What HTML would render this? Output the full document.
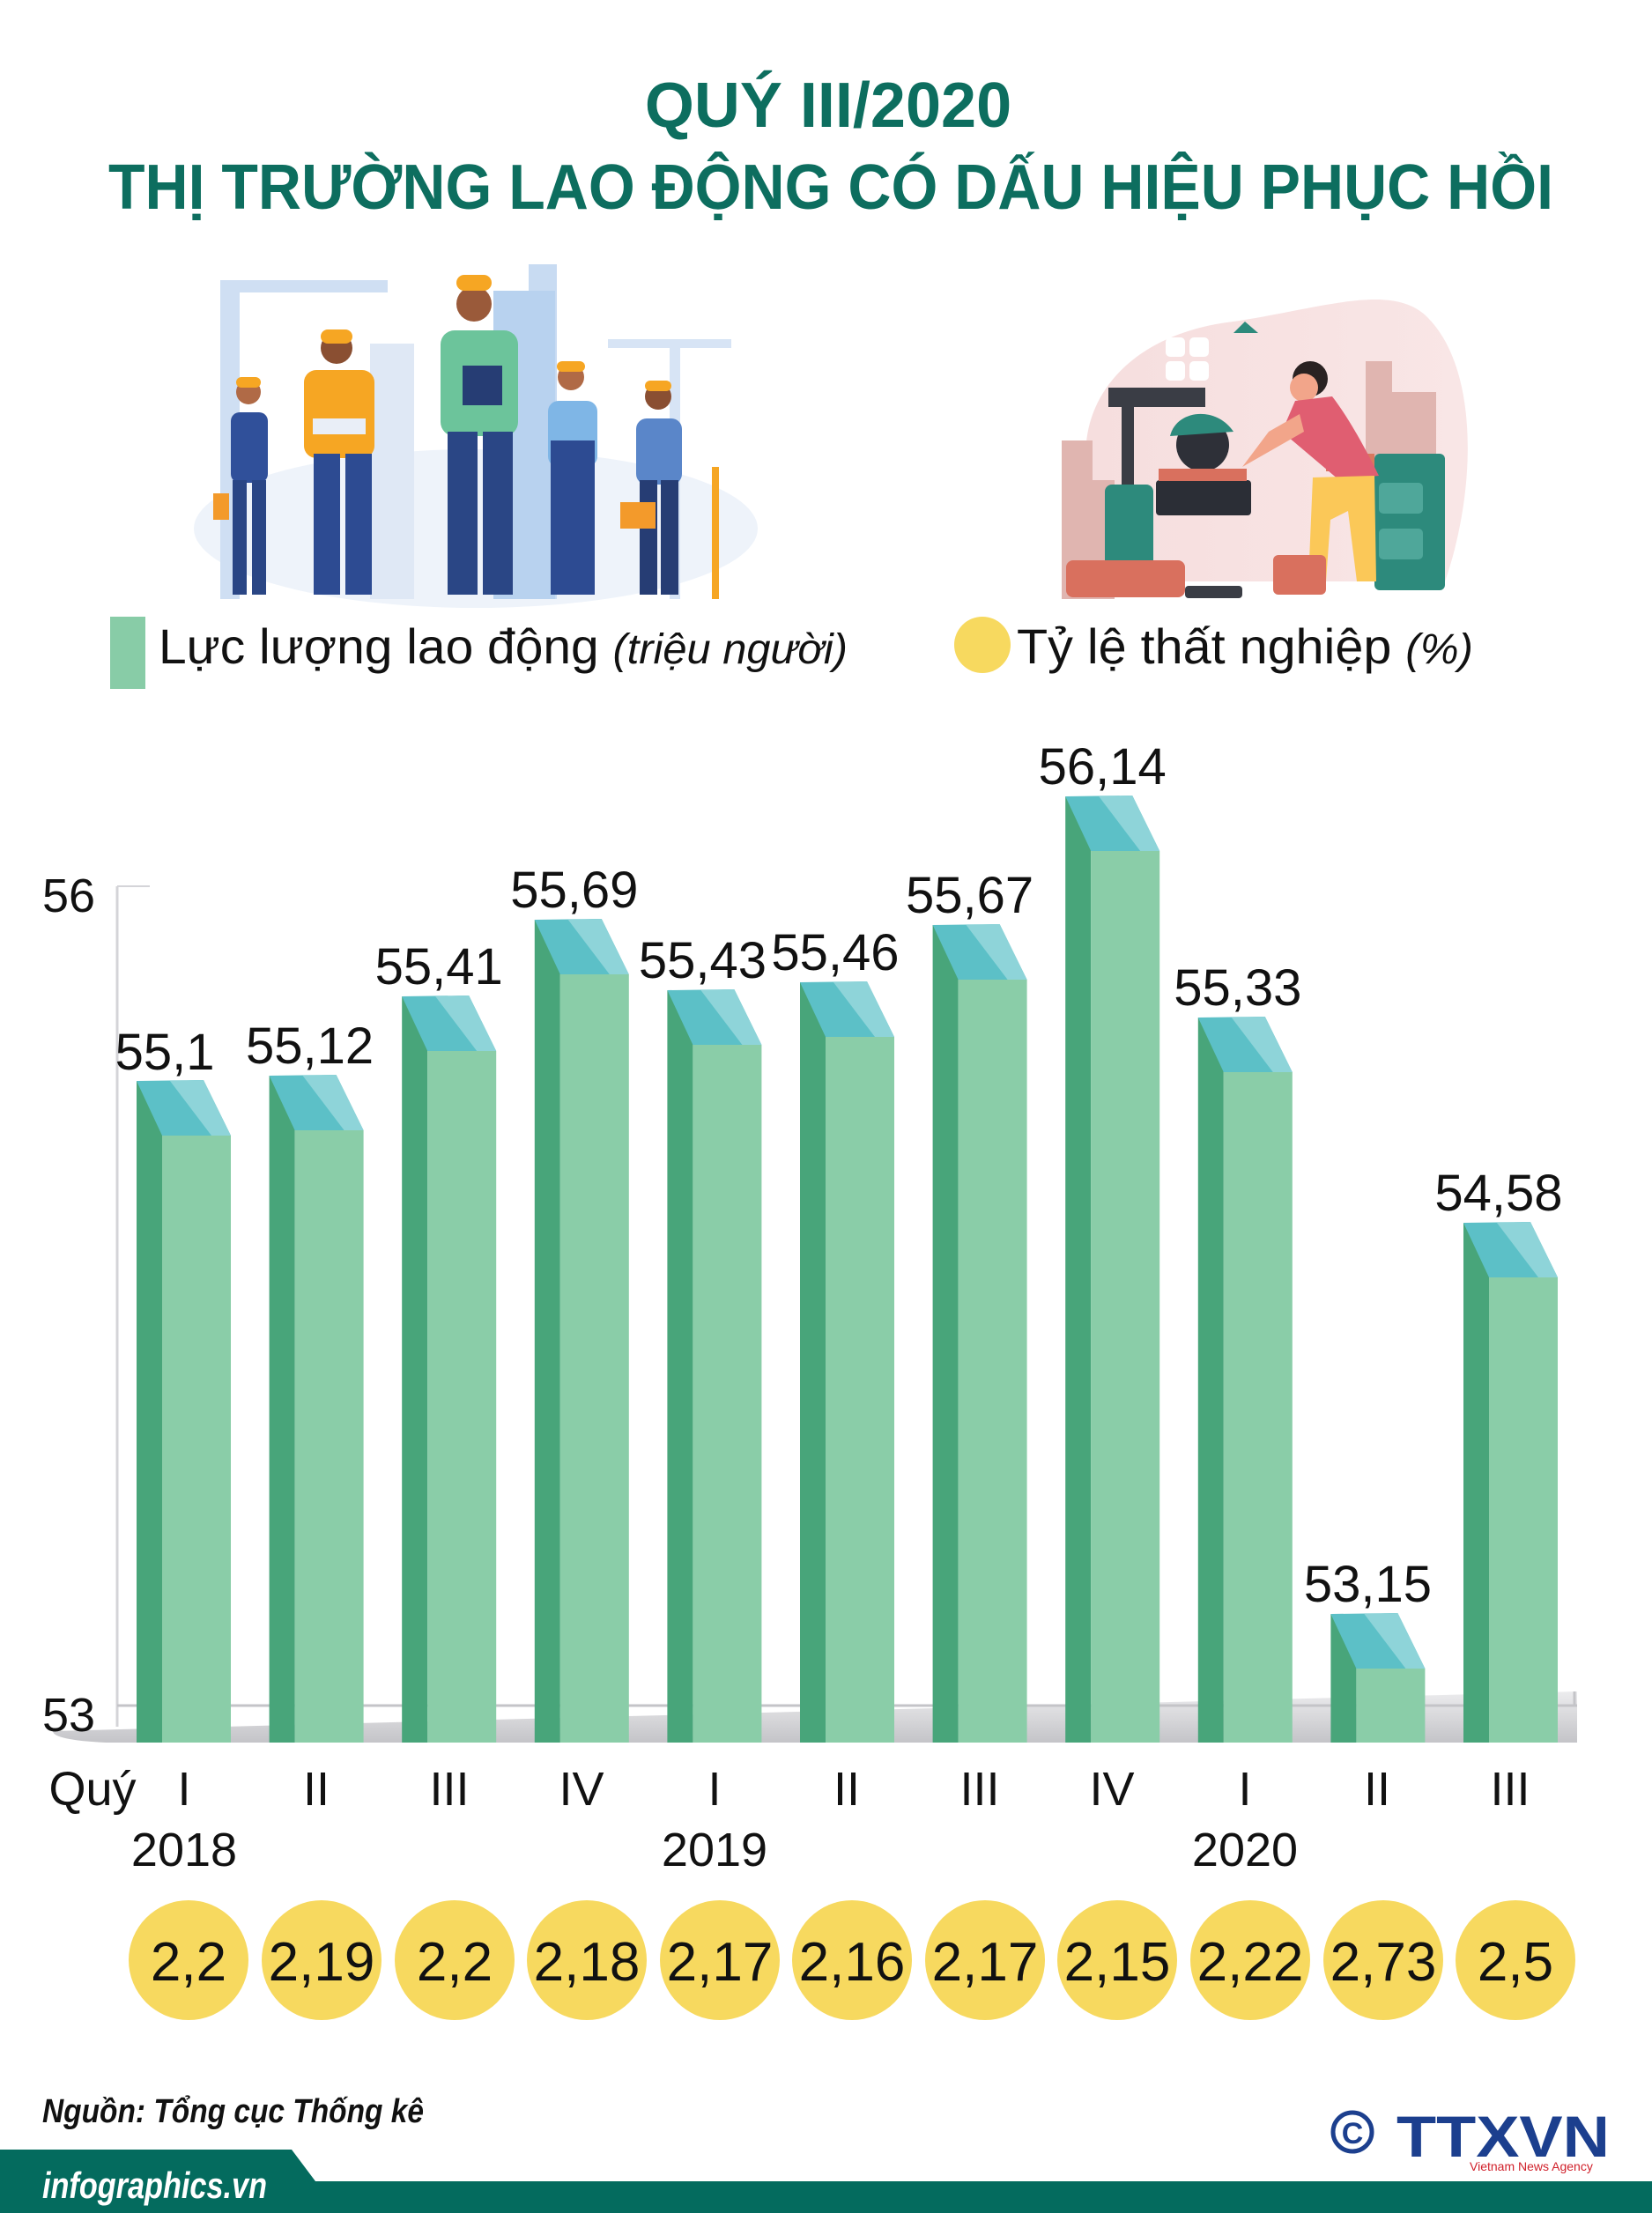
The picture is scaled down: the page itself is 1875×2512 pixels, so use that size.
<!DOCTYPE html>
<html><head><meta charset="utf-8"><style>
html,body{margin:0;padding:0;background:#fff;}
svg{display:block;}
text{font-family:"Liberation Sans","DejaVu Sans",sans-serif;}
</style></head><body>
<svg width="1875" height="2512" viewBox="0 0 1875 2512" xmlns="http://www.w3.org/2000/svg">
<defs>
<linearGradient id="base" x1="0" y1="0" x2="0" y2="1"><stop offset="0" stop-color="#ececee"/><stop offset="1" stop-color="#c4c4c8"/></linearGradient>
<linearGradient id="blob" x1="0" y1="0" x2="1" y2="0"><stop offset="0" stop-color="#f6dede"/><stop offset="1" stop-color="#f9e6e6"/></linearGradient>
</defs>

<!-- Title -->
<text x="940" y="144" text-anchor="middle" font-size="72" font-weight="bold" fill="#0d6e5f">QUÝ III/2020</text>
<text x="943" y="237" text-anchor="middle" font-size="72" font-weight="bold" fill="#0d6e5f" textLength="1640" lengthAdjust="spacingAndGlyphs">THỊ TRƯỜNG LAO ĐỘNG CÓ DẤU HIỆU PHỤC HỒI</text>

<!-- Left illustration: construction workers -->
<g>
<ellipse cx="540" cy="600" rx="320" ry="90" fill="#eef3fa"/>
<rect x="250" y="330" width="22" height="350" fill="#cfdff3"/>
<rect x="250" y="318" width="190" height="14" fill="#cfdff3"/>
<rect x="600" y="300" width="32" height="380" fill="#c8dbf2"/>
<rect x="560" y="330" width="70" height="350" fill="#b8d2ef"/>
<rect x="420" y="390" width="50" height="290" fill="#dfe8f5"/>
<rect x="690" y="385" width="140" height="10" fill="#d7e4f5"/>
<rect x="760" y="390" width="12" height="290" fill="#d7e4f5"/>
<circle cx="282" cy="445" r="14" fill="#b06a46"/><rect x="268" y="428" width="28" height="12" rx="6" fill="#f6a623"/>
<rect x="262" y="468" width="42" height="80" rx="10" fill="#30509a"/>
<rect x="264" y="545" width="16" height="130" fill="#2a4685"/><rect x="286" y="545" width="16" height="130" fill="#2a4685"/>
<rect x="242" y="560" width="18" height="30" fill="#f39a2b"/>
<circle cx="382" cy="395" r="18" fill="#8a4f32"/><rect x="364" y="374" width="36" height="16" rx="8" fill="#f6a623"/>
<rect x="345" y="420" width="80" height="100" rx="14" fill="#f6a623"/>
<rect x="356" y="515" width="30" height="160" fill="#2d4b92"/><rect x="392" y="515" width="30" height="160" fill="#2d4b92"/>
<rect x="355" y="475" width="60" height="18" fill="#e9eef7"/>
<circle cx="538" cy="345" r="20" fill="#9a5a3a"/><rect x="518" y="312" width="40" height="18" rx="9" fill="#f6a623"/>
<rect x="500" y="375" width="88" height="120" rx="16" fill="#6cc49b"/>
<rect x="508" y="490" width="34" height="185" fill="#2a4685"/><rect x="548" y="490" width="34" height="185" fill="#2a4685"/>
<rect x="525" y="415" width="45" height="45" fill="#263d74"/>
<circle cx="648" cy="428" r="15" fill="#b06a46"/><rect x="632" y="410" width="32" height="12" rx="6" fill="#f6a623"/>
<rect x="622" y="455" width="56" height="75" rx="12" fill="#7fb6e6"/>
<rect x="625" y="500" width="50" height="175" fill="#2d4b92"/>
<circle cx="747" cy="450" r="15" fill="#8a4f32"/><rect x="732" y="432" width="30" height="12" rx="6" fill="#f6a623"/>
<rect x="722" y="475" width="52" height="75" rx="12" fill="#5a86c9"/>
<rect x="726" y="545" width="20" height="130" fill="#263d74"/><rect x="750" y="545" width="20" height="130" fill="#263d74"/>
<rect x="704" y="570" width="40" height="30" fill="#f39a2b"/>
<rect x="808" y="530" width="8" height="150" fill="#f6a623"/>
</g>

<!-- Right illustration -->
<g>
<path d="M1240,560 C1210,470 1270,380 1400,365 C1500,350 1580,320 1620,360 C1680,420 1675,560 1640,660 L1240,660 Z" fill="url(#blob)"/>
<path d="M1205,500 L1240,500 L1240,545 L1265,545 L1265,680 L1205,680 Z" fill="#e0b5b0"/>
<path d="M1550,410 L1580,410 L1580,445 L1630,445 L1630,600 L1550,600 Z" fill="#e0b5b0"/>
<rect x="1323" y="383" width="22" height="22" rx="5" fill="#fff"/><rect x="1350" y="383" width="22" height="22" rx="5" fill="#fff"/>
<rect x="1323" y="410" width="22" height="22" rx="5" fill="#fff"/><rect x="1350" y="410" width="22" height="22" rx="5" fill="#fff"/>
<path d="M1400,378 L1413,365 L1428,378 Z" fill="#2d8a7c"/>
<rect x="1258" y="440" width="110" height="22" fill="#3a3d45"/>
<rect x="1273" y="440" width="14" height="115" fill="#3a3d45"/>
<rect x="1254" y="550" width="55" height="120" rx="8" fill="#2d8a7c"/>
<circle cx="1365" cy="505" r="30" fill="#2e3038"/>
<path d="M1328,495 C1335,465 1380,460 1400,490 Z" fill="#2d8a7c"/>
<rect x="1312" y="545" width="108" height="40" rx="4" fill="#2b2e36"/>
<rect x="1315" y="532" width="100" height="14" fill="#d9705e"/>
<rect x="1505" y="515" width="55" height="20" fill="#d9785e"/>
<rect x="1560" y="515" width="80" height="155" rx="6" fill="#2d8a7c"/>
<rect x="1565" y="548" width="50" height="35" rx="5" fill="#4fa79a"/><rect x="1565" y="600" width="50" height="35" rx="5" fill="#4fa79a"/>
<circle cx="1487" cy="430" r="20" fill="#2a2222"/><circle cx="1480" cy="440" r="16" fill="#f2a58a"/>
<path d="M1470,455 L1512,450 C1535,480 1555,520 1565,540 L1520,545 L1455,490 Z" fill="#e05e71"/>
<path d="M1440,490 L1475,470 L1480,490 L1410,530 Z" fill="#f2a58a"/>
<path d="M1490,542 L1560,540 L1562,660 L1540,660 L1530,580 L1510,590 L1505,660 L1485,660 Z" fill="#fbc858"/>
<rect x="1210" y="636" width="135" height="42" rx="8" fill="#d9705e"/>
<rect x="1445" y="630" width="60" height="45" rx="6" fill="#d9705e"/>
<rect x="1345" y="665" width="65" height="14" rx="4" fill="#3a3d45"/>
</g>

<!-- Legend -->
<rect x="125" y="700" width="40" height="82" fill="#88cca7"/>
<text x="180" y="753" font-size="56" fill="#111" textLength="782" lengthAdjust="spacingAndGlyphs">Lực lượng lao động <tspan font-style="italic" font-size="48">(triệu người)</tspan></text>
<circle cx="1115" cy="732" r="32" fill="#f7d95f"/>
<text x="1154" y="753" font-size="56" fill="#111" textLength="518" lengthAdjust="spacingAndGlyphs">Tỷ lệ thất nghiệp <tspan font-style="italic" font-size="48">(%)</tspan></text>

<!-- Axis -->
<line x1="133" y1="1006" x2="133" y2="1960" stroke="#d4d4d8" stroke-width="3"/>
<line x1="133" y1="1006" x2="170" y2="1006" stroke="#d4d4d8" stroke-width="2"/>
<text x="48" y="1035" font-size="54" fill="#111">56</text>
<path d="M60,1965 L1790,1920 L1790,1978 L120,1978 Q60,1975 60,1965 Z" fill="url(#base)"/>
<line x1="133" y1="1936" x2="1790" y2="1936" stroke="#c4c4c8" stroke-width="3"/>
<line x1="1787" y1="1920" x2="1787" y2="1936" stroke="#c4c4c8" stroke-width="3"/>
<text x="48" y="1965" font-size="54" fill="#111">53</text>

<!-- Bars -->
<g font-size="58" fill="#111" text-anchor="middle">
<g transform="translate(155,0)"><rect x="0" y="1227" width="29" height="751" fill="#48a57a"/><rect x="29" y="1289" width="78" height="689" fill="#8acda8"/><polygon points="0,1227 76,1226 107,1289 29,1289" fill="#5cc0c7"/><polygon points="38,1227 76,1226 107,1289 85,1289" fill="#8ed4d9"/><text x="32" y="1214">55,1</text></g>
<g transform="translate(305.6,0)"><rect x="0" y="1221" width="29" height="757" fill="#48a57a"/><rect x="29" y="1283" width="78" height="695" fill="#8acda8"/><polygon points="0,1221 76,1220 107,1283 29,1283" fill="#5cc0c7"/><polygon points="38,1221 76,1220 107,1283 85,1283" fill="#8ed4d9"/><text x="46" y="1207">55,12</text></g>
<g transform="translate(456.2,0)"><rect x="0" y="1131" width="29" height="847" fill="#48a57a"/><rect x="29" y="1193" width="78" height="785" fill="#8acda8"/><polygon points="0,1131 76,1130 107,1193 29,1193" fill="#5cc0c7"/><polygon points="38,1131 76,1130 107,1193 85,1193" fill="#8ed4d9"/><text x="42" y="1117">55,41</text></g>
<g transform="translate(606.8,0)"><rect x="0" y="1044" width="29" height="934" fill="#48a57a"/><rect x="29" y="1106" width="78" height="872" fill="#8acda8"/><polygon points="0,1044 76,1043 107,1106 29,1106" fill="#5cc0c7"/><polygon points="38,1044 76,1043 107,1106 85,1106" fill="#8ed4d9"/><text x="45" y="1030">55,69</text></g>
<g transform="translate(757.4,0)"><rect x="0" y="1124" width="29" height="854" fill="#48a57a"/><rect x="29" y="1186" width="78" height="792" fill="#8acda8"/><polygon points="0,1124 76,1123 107,1186 29,1186" fill="#5cc0c7"/><polygon points="38,1124 76,1123 107,1186 85,1186" fill="#8ed4d9"/><text x="40" y="1110">55,43</text></g>
<g transform="translate(908,0)"><rect x="0" y="1115" width="29" height="863" fill="#48a57a"/><rect x="29" y="1177" width="78" height="801" fill="#8acda8"/><polygon points="0,1115 76,1114 107,1177 29,1177" fill="#5cc0c7"/><polygon points="38,1115 76,1114 107,1177 85,1177" fill="#8ed4d9"/><text x="40" y="1101">55,46</text></g>
<g transform="translate(1058.6,0)"><rect x="0" y="1050" width="29" height="928" fill="#48a57a"/><rect x="29" y="1112" width="78" height="866" fill="#8acda8"/><polygon points="0,1050 76,1049 107,1112 29,1112" fill="#5cc0c7"/><polygon points="38,1050 76,1049 107,1112 85,1112" fill="#8ed4d9"/><text x="42" y="1036">55,67</text></g>
<g transform="translate(1209.2,0)"><rect x="0" y="904" width="29" height="1074" fill="#48a57a"/><rect x="29" y="966" width="78" height="1012" fill="#8acda8"/><polygon points="0,904 76,903 107,966 29,966" fill="#5cc0c7"/><polygon points="38,904 76,903 107,966 85,966" fill="#8ed4d9"/><text x="42" y="890">56,14</text></g>
<g transform="translate(1359.8,0)"><rect x="0" y="1155" width="29" height="823" fill="#48a57a"/><rect x="29" y="1217" width="78" height="761" fill="#8acda8"/><polygon points="0,1155 76,1154 107,1217 29,1217" fill="#5cc0c7"/><polygon points="38,1155 76,1154 107,1217 85,1217" fill="#8ed4d9"/><text x="45" y="1141">55,33</text></g>
<g transform="translate(1510.4,0)"><rect x="0" y="1832" width="29" height="146" fill="#48a57a"/><rect x="29" y="1894" width="78" height="84" fill="#8acda8"/><polygon points="0,1832 76,1831 107,1894 29,1894" fill="#5cc0c7"/><polygon points="38,1832 76,1831 107,1894 85,1894" fill="#8ed4d9"/><text x="42" y="1818">53,15</text></g>
<g transform="translate(1661,0)"><rect x="0" y="1388" width="29" height="590" fill="#48a57a"/><rect x="29" y="1450" width="78" height="528" fill="#8acda8"/><polygon points="0,1388 76,1387 107,1450 29,1450" fill="#5cc0c7"/><polygon points="38,1388 76,1387 107,1450 85,1450" fill="#8ed4d9"/><text x="40" y="1374">54,58</text></g>
</g>

<!-- X labels -->
<g font-size="54" fill="#111" text-anchor="middle">
<text x="105" y="2049">Quý</text>
<text x="209" y="2049">I</text><text x="359" y="2049">II</text><text x="510" y="2049">III</text><text x="660" y="2049">IV</text>
<text x="811" y="2049">I</text><text x="961" y="2049">II</text><text x="1112" y="2049">III</text><text x="1262" y="2049">IV</text>
<text x="1413" y="2049">I</text><text x="1563" y="2049">II</text><text x="1714" y="2049">III</text>
<text x="209" y="2118">2018</text><text x="811" y="2118">2019</text><text x="1413" y="2118">2020</text>
</g>

<!-- Unemployment circles -->
<g fill="#f7d95f">
<circle cx="214" cy="2225" r="68"/><circle cx="365" cy="2225" r="68"/><circle cx="516" cy="2225" r="68"/><circle cx="666" cy="2225" r="68"/><circle cx="817" cy="2225" r="68"/><circle cx="967" cy="2225" r="68"/><circle cx="1118" cy="2225" r="68"/><circle cx="1268" cy="2225" r="68"/><circle cx="1419" cy="2225" r="68"/><circle cx="1570" cy="2225" r="68"/><circle cx="1720" cy="2225" r="68"/>
</g>
<g font-size="62" fill="#111" text-anchor="middle">
<text x="214" y="2248">2,2</text><text x="365" y="2248">2,19</text><text x="516" y="2248">2,2</text><text x="666" y="2248">2,18</text><text x="817" y="2248">2,17</text><text x="967" y="2248">2,16</text><text x="1118" y="2248">2,17</text><text x="1268" y="2248">2,15</text><text x="1419" y="2248">2,22</text><text x="1570" y="2248">2,73</text><text x="1720" y="2248">2,5</text>
</g>

<!-- Source -->
<text x="48" y="2409" font-size="38" font-style="italic" font-weight="bold" fill="#111" textLength="433" lengthAdjust="spacingAndGlyphs">Nguồn: Tổng cục Thống kê</text>

<!-- Logo -->
<circle cx="1535" cy="2420" r="22" fill="none" stroke="#1c3f8e" stroke-width="5"/>
<text x="1535" y="2433" text-anchor="middle" font-size="34" font-weight="bold" fill="#1c3f8e">C</text>
<text x="1585" y="2448" font-size="66" font-weight="bold" fill="#1c3f8e" textLength="242" lengthAdjust="spacingAndGlyphs">TTXVN</text>
<text x="1668" y="2464" font-size="14" fill="#d0202a">Vietnam News Agency</text>

<!-- Footer -->
<path d="M0,2440 L331,2440 L358,2476 L1875,2476 L1875,2512 L0,2512 Z" fill="#046b5e"/>
<text x="48" y="2495" font-size="42" font-style="italic" font-weight="bold" fill="#fff" textLength="255" lengthAdjust="spacingAndGlyphs">infographics.vn</text>
</svg>
</body></html>
